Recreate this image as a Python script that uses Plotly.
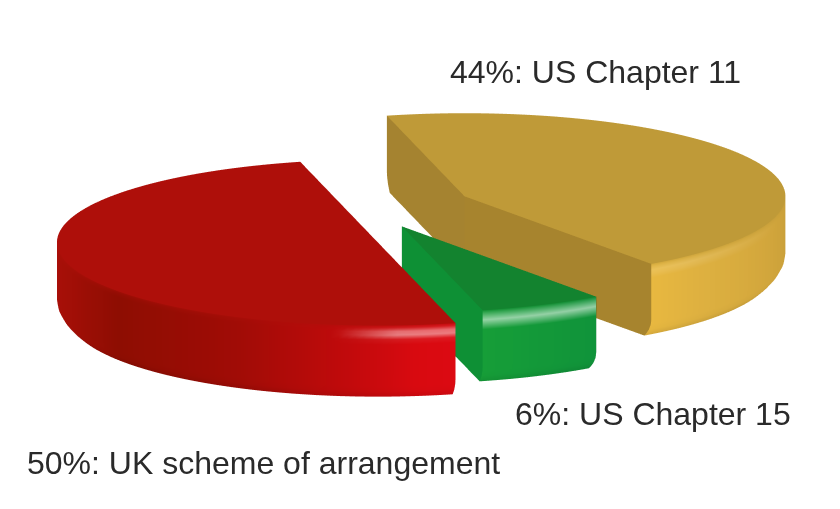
import math
import plotly.graph_objects as go

labels = ["US Chapter 11", "US Chapter 15", "UK scheme of arrangement"]
shares = [44, 6, 50]

START_DEG = 104
R = 320
SIN_EL = 0.259
COS_EL = math.sqrt(1 - SIN_EL ** 2)
HEIGHT = 74 / COS_EL
EYE = 2
ZOOM = 3.31
explode = [(36.4, 66), (-26, 36), (-50, 20)]
radius_scale = [1, 1.04, 1]
explode_xy = [(dx, dy / SIN_EL) for dx, dy in explode]
label_pos = [(440, 64), (505, 406), (17, 455)]

styles = [
    dict(top="#BF9A38", cut0="#A58330", cut1="#A7842E",
         stops=[(0, "#C49C38"), (.45, "#D2A63C"), (.8, "#DDB040"), (1, "#E8B840")],
         hi=(0.0, 0.18, .15), hi_from=.75, fade=.2),
    dict(top="#13832F", cut0="#0B6E2A", cut1="#0E9035",
         stops=[(0, "#10933A"), (1, "#169E38")],
         hi=(0.0, 0.26, .55), hi_from=0, fade=0),
    dict(top="#AE0F0A", cut0="#A00A0A", cut1="#A00A0A",
         stops=[(0, "#A80F08"), (.15, "#8E0D02"), (.45, "#A00C06"), (.75, "#C40A0C"), (.9, "#D80A10"), (1, "#DC0A12")],
         hi=(0.02, 0.2, .6), hi_from=.88, fade=.06),
]
ROWS = [1, .97, .92, .87, .81, .74, .6, .4, .25, .18, .1, .04, 0]


def rgb(h):
    return [int(h[i:i + 2], 16) for i in (1, 3, 5)]


def mix(a, b, t):
    return [p + (q - p) * t for p, q in zip(a, b)]


def css(c):
    return "rgb(%d,%d,%d)" % tuple(round(v) for v in c)


def ramp(stops, t):
    t = min(1, max(0, t))
    for (t0, c0), (t1, c1) in zip(stops, stops[1:]):
        if t <= t1:
            return mix(rgb(c0), rgb(c1), (t - t0) / (t1 - t0))
    return rgb(stops[-1][1])


def radius(f):
    return R - 12 * max(0, 1 - f / .25) ** 2


def wall_colour(st, xfrac, f, arc):
    c = ramp(st["stops"], xfrac)
    d = 1 - f
    c = mix(c, rgb(st["top"]), max(0, 1 - d / .05) * .5)
    c = mix(c, [0, 0, 0], max(0, 1 - f / .12) * .08)
    lo, hi, amt = st["hi"]
    if lo <= d <= hi and arc >= st["hi_from"]:
        fade = min(1, (arc - st["hi_from"]) / st["fade"]) if st["fade"] else 1
        mid = (lo + hi) / 2
        c = mix(c, [255, 255, 255], amt * fade * (1 - abs(d - mid) / ((hi - lo) / 2)))
    return c


def wedge(a0, a1, off, st, idx):
    ox, oy = off
    sc = radius_scale[idx]
    xs, ys, zs, cs, i, j, k = [], [], [], [], [], [], []

    def add(x, y, f, c):
        xs.append(x * sc + ox); ys.append(y * sc + oy); zs.append((f - 1) * HEIGHT); cs.append(css(c))
        return len(xs) - 1

    def quad(p, q, r, s):
        i.extend([p, p]); j.extend([q, r]); k.extend([r, s])

    n = max(10, int(abs(a1 - a0) / 1.5))
    angs = [math.radians(a0 + (a1 - a0) * t / n) for t in range(n + 1)]
    grid = []
    for t, a in enumerate(angs):
        col = []
        u = t / n
        if idx == 2:
            xfrac = (math.cos(a) + 1) / (1 + math.cos(angs[0]))
            arc = 1 - u
        elif idx == 0:
            xfrac = max(0, (u - .6) / .4)
            arc = u
        else:
            xfrac = u
            arc = u
        for f in ROWS:
            r = radius(f)
            col.append(add(r * math.cos(a), r * math.sin(a), f, wall_colour(st, xfrac, f, arc)))
        grid.append(col)
    for c0, c1 in zip(grid, grid[1:]):
        for r0 in range(len(ROWS) - 1):
            quad(c0[r0], c1[r0], c1[r0 + 1], c0[r0 + 1])
    for a, name in ((angs[0], "cut0"), (angs[-1], "cut1")):
        c = rgb(st[name])
        ids = []
        for f in ROWS:
            r = radius(f)
            ids.append((add(0, 0, f, c), add(r * math.cos(a), r * math.sin(a), f, c)))
        for (p, q), (s, r_) in zip(ids, ids[1:]):
            quad(p, q, r_, s)
    top = rgb(st["top"])
    c0 = add(0, 0, 1, top)
    rim = [add(R * math.cos(a), R * math.sin(a), 1, top) for a in angs]
    for p, q in zip(rim, rim[1:]):
        i.append(c0); j.append(p); k.append(q)
    return dict(x=xs, y=ys, z=zs, i=i, j=j, k=k, vertexcolor=cs)


fig = go.Figure()
a = START_DEG
for idx, (share, off, st, name) in enumerate(zip(shares, explode_xy, styles, labels)):
    a1 = a - share * 3.6
    fig.add_trace(go.Mesh3d(**wedge(a, a1, off, st, idx), name=name, hoverinfo="name",
                            lighting=dict(ambient=1, diffuse=0, specular=0, roughness=1, fresnel=0)))
    a = a1

XR = 420
YR = XR * 509 / 840 / SIN_EL
ZR = 300
fig.update_layout(
    width=840, height=509, margin=dict(l=0, r=0, t=0, b=0), paper_bgcolor="white", showlegend=False,
    scene=dict(
        domain=dict(x=[0, 1], y=[0, 1]),
        xaxis=dict(visible=False, range=[-XR, XR]),
        yaxis=dict(visible=False, range=[-YR, YR]),
        zaxis=dict(visible=False, range=[-ZR, ZR]),
        aspectmode="manual",
        aspectratio=dict(x=ZOOM, y=ZOOM * YR / XR, z=ZOOM * ZR / XR),
        camera=dict(projection=dict(type="orthographic"),
                    center=dict(x=0, y=0, z=0),
                    up=dict(x=0, y=0, z=1),
                    eye=dict(x=0, y=-EYE * COS_EL, z=EYE * SIN_EL)),
    ),
    annotations=[
        dict(text=f"{s}%: {l}", x=x / 840, y=1 - y / 509, xref="paper", yref="paper", xanchor="left", yanchor="middle",
             showarrow=False, font=dict(family="Liberation Sans", size=32, color="#2A2A2A"))
        for s, l, (x, y) in zip(shares, labels, label_pos)
    ],
)
fig.write_html("out.html")
